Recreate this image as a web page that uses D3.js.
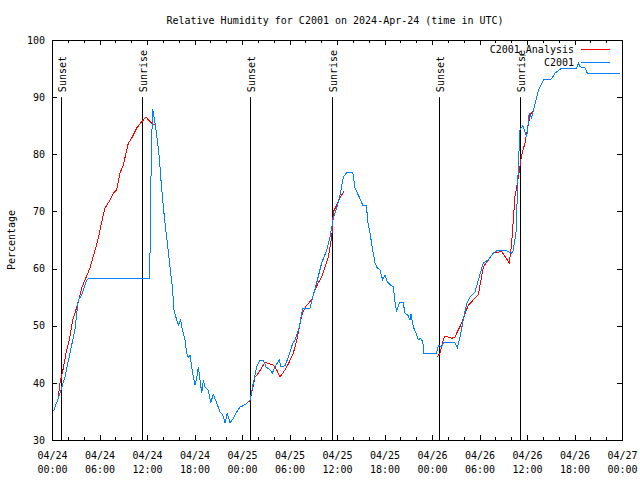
<!DOCTYPE html>
<html><head><meta charset="utf-8">
<script src="https://cdn.jsdelivr.net/npm/d3@7"></script>
<style>body{margin:0;background:#fff}svg{display:block}text{font-family:"DejaVu Sans Mono",monospace;font-size:10px;fill:#000}</style>
</head><body><svg id="c" width="640" height="480"></svg>
<script>
const titleText = "Relative Humidity for C2001 on 2024-Apr-24 (time in UTC)";
const yLabel = "Percentage";
const seriesNames = ["C2001_Analysis", "C2001"];
const yTicks = [30, 40, 50, 60, 70, 80, 90, 100];

// observed (C2001)
const obsTime = ["2024-04-24T00:10","2024-04-24T00:48","2024-04-24T01:38","2024-04-24T02:16","2024-04-24T02:54","2024-04-24T03:19","2024-04-24T03:45","2024-04-24T04:23","2024-04-24T04:35","2024-04-24T12:17","2024-04-24T12:23","2024-04-24T12:28","2024-04-24T12:36","2024-04-24T12:43","2024-04-24T13:01","2024-04-24T13:18","2024-04-24T13:33","2024-04-24T13:44","2024-04-24T13:59","2024-04-24T14:16","2024-04-24T14:34","2024-04-24T14:54","2024-04-24T15:12","2024-04-24T15:25","2024-04-24T15:45","2024-04-24T15:57","2024-04-24T16:15","2024-04-24T16:28","2024-04-24T16:48","2024-04-24T17:01","2024-04-24T17:13","2024-04-24T17:26","2024-04-24T17:39","2024-04-24T17:51","2024-04-24T18:04","2024-04-24T18:17","2024-04-24T18:29","2024-04-24T18:42","2024-04-24T18:55","2024-04-24T19:07","2024-04-24T19:20","2024-04-24T19:45","2024-04-24T20:03","2024-04-24T20:22","2024-04-24T20:48","2024-04-24T21:13","2024-04-24T21:34","2024-04-24T21:51","2024-04-24T22:09","2024-04-24T22:29","2024-04-24T22:54","2024-04-24T23:20","2024-04-24T23:45","2024-04-25T00:10","2024-04-25T00:40","2024-04-25T01:01","2024-04-25T01:26","2024-04-25T01:52","2024-04-25T02:16","2024-04-25T02:41","2024-04-25T03:02","2024-04-25T03:32","2024-04-25T03:50","2024-04-25T04:10","2024-04-25T04:43","2024-04-25T04:53","2024-04-25T05:26","2024-04-25T05:51","2024-04-25T06:24","2024-04-25T06:41","2024-04-25T07:14","2024-04-25T07:40","2024-04-25T08:35","2024-04-25T08:56","2024-04-25T09:26","2024-04-25T10:04","2024-04-25T10:42","2024-04-25T11:07","2024-04-25T11:32","2024-04-25T11:58","2024-04-25T12:23","2024-04-25T12:48","2024-04-25T13:18","2024-04-25T13:59","2024-04-25T14:16","2024-04-25T14:49","2024-04-25T15:15","2024-04-25T15:45","2024-04-25T15:50","2024-04-25T16:10","2024-04-25T16:31","2024-04-25T16:48","2024-04-25T17:05","2024-04-25T17:26","2024-04-25T17:46","2024-04-25T18:04","2024-04-25T18:21","2024-04-25T18:47","2024-04-25T19:07","2024-04-25T19:20","2024-04-25T19:32","2024-04-25T19:52","2024-04-25T20:22","2024-04-25T20:35","2024-04-25T20:56","2024-04-25T21:13","2024-04-25T21:21","2024-04-25T21:38","2024-04-25T21:59","2024-04-25T22:16","2024-04-25T22:34","2024-04-25T22:50","2024-04-25T22:59","2024-04-26T00:35","2024-04-26T00:48","2024-04-26T01:14","2024-04-26T01:26","2024-04-26T02:55","2024-04-26T03:12","2024-04-26T03:32","2024-04-26T03:57","2024-04-26T04:23","2024-04-26T04:48","2024-04-26T05:26","2024-04-26T05:51","2024-04-26T06:29","2024-04-26T07:07","2024-04-26T07:44","2024-04-26T08:10","2024-04-26T09:26","2024-04-26T10:04","2024-04-26T10:16","2024-04-26T10:37","2024-04-26T10:46","2024-04-26T10:54","2024-04-26T11:07","2024-04-26T11:28","2024-04-26T11:58","2024-04-26T12:17","2024-04-26T12:35","2024-04-26T12:48","2024-04-26T13:08","2024-04-26T13:26","2024-04-26T14:04","2024-04-26T15:07","2024-04-26T15:32","2024-04-26T16:23","2024-04-26T18:17","2024-04-26T18:29","2024-04-26T18:42","2024-04-26T19:20","2024-04-26T19:37","2024-04-26T23:45"];
const obsRH = [35.0,37.3,41.0,45.2,49.3,54.5,55.4,58.0,58.2,58.2,62.9,73.2,83.0,88.0,85.5,82.5,79.5,76.0,72.0,68.0,64.5,60.3,56.8,52.7,51.0,50.1,51.0,49.3,47.5,45.2,44.5,44.8,42.8,41.0,39.6,40.8,42.8,40.5,38.2,40.5,39.3,38.7,36.5,38.0,36.5,34.9,34.4,33.0,34.7,33.0,33.8,34.9,35.8,36.0,36.5,37.0,40.0,42.8,44.0,44.0,42.8,42.3,41.7,42.8,44.0,42.8,43.0,44.5,46.9,47.5,49.8,53.1,53.1,55.0,57.5,61.0,63.2,65.5,68.8,70.6,72.9,76.0,76.9,76.9,74.1,72.5,71.1,71.1,68.5,66.2,63.2,61.0,60.1,59.8,58.0,58.9,57.7,57.1,56.8,54.0,52.5,54.0,54.0,52.2,51.9,51.0,52.0,49.8,48.7,47.5,47.8,47.2,45.2,45.2,46.6,46.3,47.0,47.0,46.1,48.0,51.0,53.9,55.0,55.9,58.0,61.0,61.5,62.7,63.1,63.1,62.7,63.2,66.4,72.5,77.8,84.3,85.0,83.1,87.2,86.3,87.7,89.5,91.2,93.0,93.2,94.2,95.1,95.1,96.0,95.3,95.1,94.2,94.2];

// analysis (C2001_Analysis); null marks a gap
const anaTime = ["2024-04-24T00:48","2024-04-24T01:01","2024-04-24T01:26","2024-04-24T01:46","2024-04-24T02:11","2024-04-24T02:37","2024-04-24T02:54","2024-04-24T03:19","2024-04-24T03:45","2024-04-24T04:10","2024-04-24T04:48","2024-04-24T05:26","2024-04-24T05:51","2024-04-24T06:17","2024-04-24T06:42","2024-04-24T07:20","2024-04-24T07:45","2024-04-24T08:10","2024-04-24T08:35","2024-04-24T09:00","2024-04-24T09:38","2024-04-24T10:04","2024-04-24T10:42","2024-04-24T11:20","2024-04-24T11:52","2024-04-24T12:36","2024-04-24T13:00","2024-04-24T20:00","2024-04-25T01:00","2024-04-25T01:38","2024-04-25T02:04","2024-04-25T02:54","2024-04-25T03:57","2024-04-25T04:23","2024-04-25T04:48","2024-04-25T05:26","2024-04-25T05:51","2024-04-25T06:29","2024-04-25T06:55","2024-04-25T07:20","2024-04-25T07:40","2024-04-25T08:10","2024-04-25T08:48","2024-04-25T09:13","2024-04-25T09:38","2024-04-25T10:04","2024-04-25T10:29","2024-04-25T10:54","2024-04-25T11:20","2024-04-25T11:32","2024-04-25T11:58","2024-04-25T12:23","2024-04-25T12:55","2024-04-25T18:00","2024-04-26T00:40","2024-04-26T01:01","2024-04-26T01:21","2024-04-26T01:38","2024-04-26T02:04","2024-04-26T02:29","2024-04-26T02:55","2024-04-26T03:07","2024-04-26T03:27","2024-04-26T03:45","2024-04-26T04:35","2024-04-26T05:51","2024-04-26T06:29","2024-04-26T07:44","2024-04-26T08:48","2024-04-26T09:46","2024-04-26T10:04","2024-04-26T10:29","2024-04-26T10:54","2024-04-26T11:20","2024-04-26T11:45","2024-04-26T12:23","2024-04-26T12:48"];
const anaRH = [37.7,40.0,42.6,45.2,47.5,51.0,52.2,54.2,56.6,58.0,60.1,63.2,65.3,68.2,70.6,72.0,73.2,73.8,76.7,78.1,81.9,82.8,84.6,85.7,86.5,85.4,85.1,null,36.7,41.0,41.7,43.6,43.1,42.3,41.0,42.3,43.3,45.2,47.5,50.4,52.4,53.6,54.5,56.3,57.5,58.5,60.3,62.0,65.5,69.9,71.1,72.4,73.6,null,44.5,45.2,47.2,48.2,48.0,47.8,48.0,48.7,49.6,50.5,53.6,55.4,60.3,62.7,63.0,61.0,64.5,72.6,76.0,79.9,82.0,86.9,87.7];

const sunTime = ["2024-04-24T01:08","2024-04-24T11:22","2024-04-25T01:00","2024-04-25T11:22","2024-04-26T00:53","2024-04-26T11:07"];
const sunLabel = ["Sunset","Sunrise","Sunset","Sunrise","Sunset","Sunrise"];

const parse = d3.utcParse("%Y-%m-%dT%H:%M");
const svg = d3.select("#c");
const L = 52, R = 622, T = 40, B = 440;
const x = d3.scaleUtc().domain([parse("2024-04-24T00:00"), parse("2024-04-27T00:00")]).range([L, R]);
const y = d3.scaleLinear().domain([30, 100]).range([B, T]);

const major = d3.utcHour.every(6).range(x.domain()[0], d3.utcHour.offset(x.domain()[1], 1));
const minor = d3.utcHour.every(2).range(x.domain()[0], d3.utcHour.offset(x.domain()[1], 1));

function clean(g){ g.select(".domain").remove(); g.selectAll("line").attr("stroke","#000").attr("shape-rendering","crispEdges"); }

// minor ticks
svg.append("g").attr("transform",`translate(0,${B})`).call(d3.axisBottom(x).tickValues(minor).tickSize(-3).tickFormat("")).call(clean);
svg.append("g").attr("transform",`translate(0,${T})`).call(d3.axisTop(x).tickValues(minor).tickSize(-3).tickFormat("")).call(clean);
// major ticks
const fmtD = d3.utcFormat("%m/%d"), fmtT = d3.utcFormat("%H:%M");
const xb = svg.append("g").attr("transform",`translate(0,${B})`).call(d3.axisBottom(x).tickValues(major).tickSize(-5).tickFormat("")).call(clean);
xb.selectAll(".tick").each(function(d){
  const t = d3.select(this).append("text").attr("text-anchor","middle").attr("fill","#000");
  t.append("tspan").attr("x",0).attr("y",19).text(fmtD(d));
  t.append("tspan").attr("x",0).attr("y",33).text(fmtT(d));
});
svg.append("g").attr("transform",`translate(0,${T})`).call(d3.axisTop(x).tickValues(major).tickSize(-5).tickFormat("")).call(clean);

const yl = svg.append("g").attr("transform",`translate(${L},0)`).call(d3.axisLeft(y).tickValues(yTicks).tickSize(-5).tickPadding(7)).call(clean);
yl.selectAll("text").attr("fill","#000").style("font-family",'"DejaVu Sans Mono",monospace').style("font-size","10px");
svg.append("g").attr("transform",`translate(${R},0)`).call(d3.axisRight(y).tickValues(yTicks).tickSize(-5).tickFormat("")).call(clean);

// frame
svg.append("rect").attr("x",L).attr("y",T).attr("width",R-L).attr("height",B-T).attr("fill","none").attr("stroke","#000").attr("shape-rendering","crispEdges");

// sunrise/sunset
const sun = sunTime.map((t,i)=>({t:parse(t), label:sunLabel[i]}));
svg.selectAll(".sun").data(sun).enter().append("line")
  .attr("x1",d=>Math.round(x(d.t))+0.5).attr("x2",d=>Math.round(x(d.t))+0.5)
  .attr("y1",y(90)).attr("y2",B).attr("stroke","#000").attr("stroke-width",1);
svg.selectAll(".sunl").data(sun).enter().append("text")
  .attr("transform",d=>`translate(${Math.round(x(d.t))+5},${y(90)-5}) rotate(-90)`)
  .text(d=>d.label);

// lines
const ana = anaTime.map((t,i)=>({t:parse(t), v:anaRH[i]}));
const obs = obsTime.map((t,i)=>({t:parse(t), v:obsRH[i]}));
const line = d3.line().defined(d=>d.v!=null).x(d=>x(d.t)).y(d=>y(d.v));
svg.append("path").datum(ana).attr("d",line).attr("fill","none").attr("stroke","#ff0000").attr("stroke-width",1).attr("shape-rendering","crispEdges");
svg.append("path").datum(obs).attr("d",line).attr("fill","none").attr("stroke","#0080ff").attr("stroke-width",1).attr("shape-rendering","crispEdges");

// legend
const leg = [{n:seriesNames[0],c:"#ff0000",y:49},{n:seriesNames[1],c:"#0080ff",y:62}];
leg.forEach(l=>{
  svg.append("text").attr("x",574).attr("y",l.y).attr("dy","0.35em").attr("text-anchor","end").text(l.n);
  svg.append("line").attr("x1",581).attr("x2",610).attr("y1",l.y+0.5).attr("y2",l.y+0.5).attr("stroke",l.c).attr("shape-rendering","crispEdges");
});

// title and y label
svg.append("text").attr("x",335).attr("y",24).attr("text-anchor","middle").text(titleText);
svg.append("text").attr("transform","translate(15,240) rotate(-90)").attr("text-anchor","middle").text(yLabel);
</script></body></html>
